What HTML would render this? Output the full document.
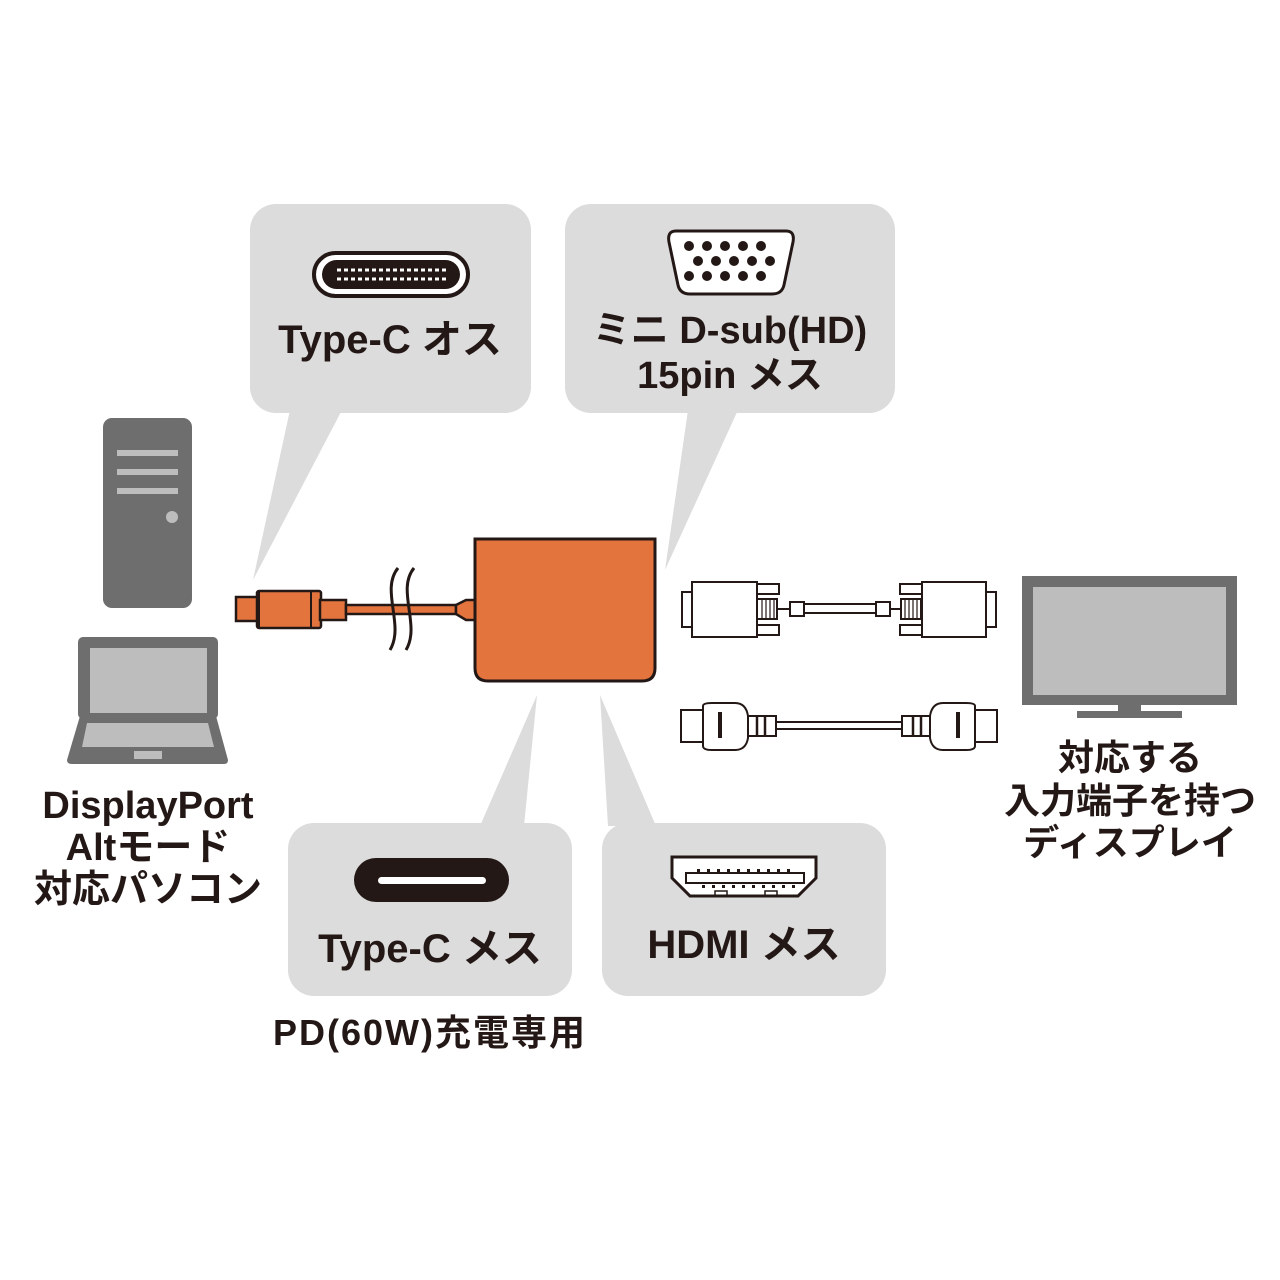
<!DOCTYPE html>
<html><head><meta charset="utf-8"><style>
html,body{margin:0;padding:0;background:#fff}
svg{display:block}
text{font-family:"Liberation Sans","Noto Sans CJK JP",sans-serif;font-weight:bold;fill:#231815}
</style></head><body>
<svg width="1280" height="1280" viewBox="0 0 1280 1280" xmlns="http://www.w3.org/2000/svg">
<g fill="#dcdcdc">
<rect x="250" y="204" width="281" height="209" rx="26"/>
<polygon points="290,410 342,410 253,580"/>
<rect x="565" y="204" width="330" height="209" rx="26"/>
<polygon points="688,410 738,410 665,570"/>
<rect x="288" y="823" width="284" height="173" rx="26"/>
<polygon points="480,826 524,826 537,695"/>
<rect x="602" y="823" width="284" height="173" rx="26"/>
<polygon points="600,695 608,826 656,826"/>
</g>
<rect x="314" y="253" width="154" height="43" rx="21.5" fill="#fff" stroke="#231815" stroke-width="4"/>
<rect x="322" y="260" width="138" height="29" rx="14.5" fill="#231815"/>
<g stroke="#fff" stroke-width="3" stroke-dasharray="4 3">
<line x1="337" y1="270" x2="446" y2="270"/><line x1="337" y1="279" x2="446" y2="279"/>
</g>
<text x="390" y="353" font-size="40" text-anchor="middle">Type-C オス</text>
<path d="M676,231 H786 Q795,231 793,242 L784,285 Q782,294 772,294 H690 Q680,294 678,285 L669,242 Q667,231 676,231 Z" fill="#fff" stroke="#231815" stroke-width="3"/>
<g fill="#231815">
<circle cx="689" cy="246" r="5"/><circle cx="707" cy="246" r="5"/><circle cx="725" cy="246" r="5"/><circle cx="743" cy="246" r="5"/><circle cx="761" cy="246" r="5"/>
<circle cx="698" cy="261" r="5"/><circle cx="716" cy="261" r="5"/><circle cx="734" cy="261" r="5"/><circle cx="752" cy="261" r="5"/><circle cx="770" cy="261" r="5"/>
<circle cx="689" cy="276" r="5"/><circle cx="707" cy="276" r="5"/><circle cx="725" cy="276" r="5"/><circle cx="743" cy="276" r="5"/><circle cx="761" cy="276" r="5"/>
</g>
<text x="730" y="343" font-size="38" text-anchor="middle">ミニ D-sub(HD)</text>
<text x="730" y="388" font-size="38" text-anchor="middle">15pin メス</text>
<rect x="354" y="858" width="155" height="44" rx="22" fill="#231815"/>
<rect x="378" y="877" width="108" height="7" rx="3.5" fill="#fff"/>
<text x="430" y="962" font-size="40" text-anchor="middle">Type-C メス</text>
<path d="M672,857 H816 V878 L798,896 H690 L672,878 Z" fill="#fff" stroke="#231815" stroke-width="3"/>
<rect x="686" y="873" width="118" height="10" fill="#fff" stroke="#231815" stroke-width="2"/>
<g fill="#231815">
<rect x="697" y="869" width="3" height="3"/><rect x="707" y="869" width="3" height="3"/><rect x="717" y="869" width="3" height="3"/><rect x="727" y="869" width="3" height="3"/><rect x="737" y="869" width="3" height="3"/><rect x="747" y="869" width="3" height="3"/><rect x="757" y="869" width="3" height="3"/><rect x="767" y="869" width="3" height="3"/><rect x="777" y="869" width="3" height="3"/><rect x="787" y="869" width="3" height="3"/>
<rect x="702" y="885" width="3" height="3"/><rect x="712" y="885" width="3" height="3"/><rect x="722" y="885" width="3" height="3"/><rect x="732" y="885" width="3" height="3"/><rect x="742" y="885" width="3" height="3"/><rect x="752" y="885" width="3" height="3"/><rect x="762" y="885" width="3" height="3"/><rect x="772" y="885" width="3" height="3"/><rect x="782" y="885" width="3" height="3"/><rect x="792" y="885" width="3" height="3"/>
</g>
<rect x="715" y="891" width="12" height="5" fill="none" stroke="#231815" stroke-width="1.5"/>
<rect x="765" y="891" width="12" height="5" fill="none" stroke="#231815" stroke-width="1.5"/>
<text x="744" y="958" font-size="40" text-anchor="middle">HDMI メス</text>
<text x="430" y="1045" font-size="36" text-anchor="middle" letter-spacing="2">PD(60W)充電専用</text>
<rect x="103" y="418" width="89" height="190" rx="9" fill="#6e6e6e"/>
<g fill="#bdbdbd"><rect x="117" y="450" width="61" height="6"/><rect x="117" y="469" width="61" height="6"/><rect x="117" y="488" width="61" height="6"/><circle cx="172" cy="517" r="6"/></g>
<rect x="78" y="637" width="140" height="82" rx="5" fill="#6e6e6e"/>
<rect x="90" y="648" width="117" height="65" fill="#bdbdbd"/>
<path d="M80,716 H216 L228,760 Q228,764 224,764 H72 Q67,764 67,760 Z" fill="#6e6e6e"/>
<path d="M87,723 H208 L214,747 H82 Z" fill="#bdbdbd"/>
<rect x="134" y="751" width="28" height="8" fill="#bdbdbd"/>
<text x="148" y="818" font-size="38" text-anchor="middle">DisplayPort</text>
<text x="148" y="860" font-size="38" text-anchor="middle">Altモード</text>
<text x="148" y="902" font-size="38" text-anchor="middle">対応パソコン</text>
<g fill="#e3743e" stroke="#231815" stroke-width="2.5">
<rect x="236" y="597" width="24" height="24"/>
<rect x="257" y="591" width="64" height="37" rx="2"/>
<rect x="320" y="600" width="26" height="20"/>
<rect x="346" y="605" width="110" height="9"/>
<path d="M456,605 L466,600 H476 V620 H466 L456,614 Z"/>
</g>
<line x1="258" y1="592" x2="258" y2="627" stroke="#231815" stroke-width="4"/>
<line x1="311" y1="592" x2="311" y2="627" stroke="#231815" stroke-width="2"/>
<g fill="none" stroke="#231815" stroke-width="3">
<path d="M398,568 C380,590 405,625 390,650"/>
<path d="M414,568 C396,590 421,625 406,650"/>
</g>
<path d="M475,539 H655 V668 Q655,681 642,681 H488 Q475,681 475,668 Z" fill="#e3743e" stroke="#231815" stroke-width="3"/>
<g fill="#fff" stroke="#231815" stroke-width="2">
<rect x="682" y="592" width="12" height="35"/>
<rect x="692" y="582" width="65" height="55"/>
<rect x="757" y="584" width="22" height="10"/><rect x="757" y="625" width="22" height="10"/>
<rect x="757" y="599" width="20" height="20"/>
<rect x="790" y="602" width="14" height="14"/>
<rect x="804" y="604" width="72" height="9"/>
<rect x="876" y="602" width="14" height="14"/>
<rect x="901" y="599" width="20" height="20"/>
<rect x="900" y="584" width="22" height="10"/><rect x="900" y="625" width="22" height="10"/>
<rect x="922" y="582" width="64" height="55"/>
<rect x="986" y="592" width="10" height="35"/>
</g>
<g stroke="#231815" stroke-width="1.2"><path d="M762,600V618M766,600V618M770,600V618M774,600V618M905,600V618M909,600V618M913,600V618M917,600V618"/></g>
<line x1="777" y1="609" x2="790" y2="609" stroke="#231815" stroke-width="2"/>
<line x1="890" y1="609" x2="901" y2="609" stroke="#231815" stroke-width="2"/>
<g fill="#fff" stroke="#231815" stroke-width="2">
<rect x="681" y="710" width="22" height="32"/>
<path d="M703,706 Q703,703 712,703 H735 Q746,703 748,716 V738 Q746,750 735,750 H712 Q703,750 703,746 Z"/>
<rect x="748" y="716" width="28" height="20"/>
<rect x="776" y="722" width="126" height="7"/>
<rect x="902" y="716" width="28" height="20"/>
<path d="M975,706 Q975,703 966,703 H943 Q932,703 930,716 V738 Q932,750 943,750 H966 Q975,750 975,746 Z"/>
<rect x="975" y="710" width="22" height="32"/>
</g>
<g stroke="#231815" stroke-width="2.5"><path d="M757,716V736M765,716V736M913,716V736M921,716V736"/></g>
<g fill="#231815"><rect x="718" y="712" width="4" height="26"/><rect x="956" y="712" width="4" height="26"/></g>
<rect x="1022" y="576" width="215" height="129" fill="#6e6e6e"/>
<rect x="1033" y="587" width="193" height="108" fill="#bdbdbd"/>
<rect x="1118" y="704" width="23" height="9" fill="#6e6e6e"/>
<rect x="1077" y="711" width="105" height="7" fill="#6e6e6e"/>
<text x="1130" y="770" font-size="36" text-anchor="middle">対応する</text>
<text x="1130" y="813" font-size="36" text-anchor="middle">入力端子を持つ</text>
<text x="1130" y="855" font-size="36" text-anchor="middle">ディスプレイ</text>
</svg>
</body></html>
